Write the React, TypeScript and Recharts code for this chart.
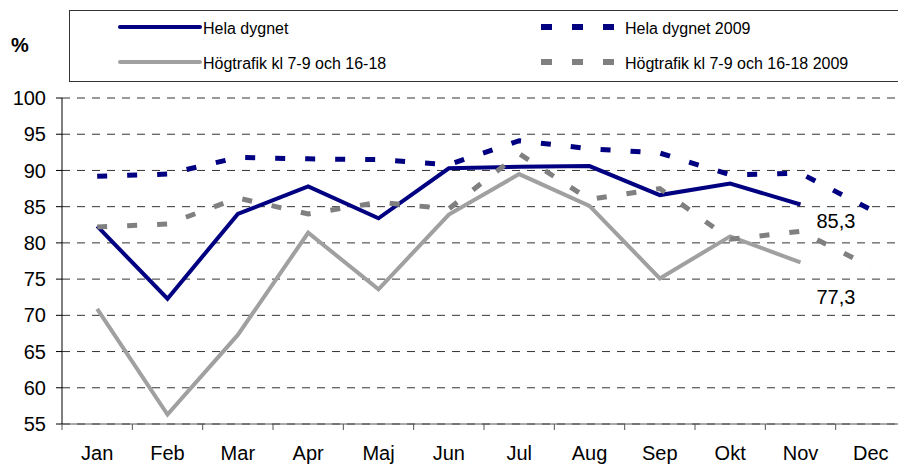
import { LineChart, Line, XAxis, YAxis, CartesianGrid, LabelList } from "recharts";

const months = ["Jan", "Feb", "Mar", "Apr", "Maj", "Jun", "Jul", "Aug", "Sep", "Okt", "Nov", "Dec"];
const helaDygnet = [82.3, 72.3, 84.0, 87.8, 83.4, 90.3, 90.5, 90.6, 86.6, 88.2, 85.3, null];
const hogtrafik = [70.9, 56.3, 67.3, 81.4, 73.6, 83.9, 89.5, 85.1, 75.1, 80.9, 77.3, null];
const helaDygnet2009 = [89.2, 89.5, 91.8, 91.6, 91.5, 90.8, 94.1, 93.0, 92.4, 89.4, 89.6, 84.6];
const hogtrafik2009 = [82.2, 82.6, 86.2, 84.0, 85.6, 84.7, 92.3, 86.0, 87.5, 80.5, 81.6, 76.7];
const yTicks = [55, 60, 65, 70, 75, 80, 85, 90, 95, 100];

const data = months.map((m, i) => ({
  month: m,
  hela: helaDygnet[i],
  hog: hogtrafik[i],
  hela09: helaDygnet2009[i],
  hog09: hogtrafik2009[i],
}));

const FONT = "'Liberation Sans', Arial, sans-serif";
const NAVY = "#000080";
const GRAY = "#a0a0a0";
const GRAY_DARK = "#808080";

const CHART_W = 906;
const CHART_H = 466;
const Y_W = 62;
const BAND = (CHART_W - Y_W) / months.length;

// month label plus a tick mark on the band boundary (Excel style)
const MonthTick = (props: any) => {
  const { x, y, payload } = props;
  return (
    <g>
      <line x1={x - BAND / 2} x2={x - BAND / 2} y1={y} y2={y + 6} stroke="#555" />
      <text x={x} y={y + 22} dy="0.71em" textAnchor="middle" fontSize={20} fontFamily={FONT} fill="#000">
        {payload.value}
      </text>
    </g>
  );
};

// value label at the last point of a series
const lastLabel = (dy: number) => (props: any) => {
  const { x, y, value, index } = props;
  if (index !== 10 || value == null) return null;
  return (
    <text x={x + 16} y={y + dy} fontSize={20} fontFamily={FONT} fill="#000">
      {String(value).replace(".", ",")}
    </text>
  );
};

const legendItems = [
  { name: "Hela dygnet", color: NAVY, dashed: false, col: 0, row: 0 },
  { name: "Hela dygnet 2009", color: NAVY, dashed: true, col: 1, row: 0 },
  { name: "Högtrafik kl 7-9 och 16-18", color: GRAY, dashed: false, col: 0, row: 1 },
  { name: "Högtrafik kl 7-9 och 16-18 2009", color: GRAY_DARK, dashed: true, col: 1, row: 1 },
];

const ChartLegend = () => (
  <svg width={898} height={90} style={{ position: "absolute", left: 0, top: 0 }}>
    <rect x={69.5} y={10.5} width={860} height={71} fill="#fff" stroke="#333" />
    <text x={11} y={52} fontSize={20} fontWeight="bold" fontFamily={FONT}>
      %
    </text>
    {legendItems.map((it) => {
      const ly = it.row === 0 ? 27 : 62;
      const lx = it.col === 0 ? 120 : 541;
      const tx = it.col === 0 ? 203 : 625;
      return (
        <g key={it.name}>
          {it.dashed ? (
            <line x1={lx} x2={lx + 74} y1={ly} y2={ly} stroke={it.color} strokeWidth={6} strokeDasharray="11 20" />
          ) : (
            <line x1={lx} x2={lx + 80} y1={ly} y2={ly} stroke={it.color} strokeWidth={4} strokeLinecap="round" />
          )}
          <text x={tx} y={ly + 7} fontSize={16} fontFamily={FONT} fill="#000">
            {it.name}
          </text>
        </g>
      );
    })}
  </svg>
);

export default function App() {
  return (
    <div
      style={{
        position: "absolute",
        left: 0,
        top: 0,
        width: 898,
        height: 466,
        overflow: "hidden",
        background: "#fff",
      }}
    >
      <ChartLegend />
      <div style={{ position: "absolute", left: 0, top: 0 }}>
        <LineChart width={CHART_W} height={CHART_H} data={data} margin={{ top: 98, right: 0, bottom: 12, left: 0 }}>
          <CartesianGrid vertical={false} stroke="#333" strokeDasharray="8 7" />
          <XAxis
            dataKey="month"
            scale="band"
            height={30}
            axisLine={{ stroke: "#555" }}
            tickLine={false}
            tickSize={0}
            tickMargin={0}
            interval={0}
            tick={<MonthTick />}
          />
          <YAxis
            width={Y_W}
            domain={[55, 100]}
            ticks={yTicks}
            interval={0}
            axisLine={{ stroke: "#000" }}
            tickLine={{ stroke: "#000" }}
            tickSize={6}
            tickMargin={10}
            tick={{ fontSize: 20, fontFamily: FONT, fill: "#000" }}
          />
          <Line
            dataKey="hela"
            stroke={NAVY}
            strokeWidth={4}
            dot={false}
            isAnimationActive={false}
          >
            <LabelList dataKey="hela" content={lastLabel(24)} />
          </Line>
          <Line
            dataKey="hog"
            stroke={GRAY}
            strokeWidth={4}
            dot={false}
            isAnimationActive={false}
          >
            <LabelList dataKey="hog" content={lastLabel(42)} />
          </Line>
          <Line
            dataKey="hela09"
            stroke={NAVY}
            strokeWidth={5}
            strokeDasharray="10 20"
            dot={false}
            isAnimationActive={false}
          />
          <Line
            dataKey="hog09"
            stroke={GRAY_DARK}
            strokeWidth={5}
            strokeDasharray="10 20"
            dot={false}
            isAnimationActive={false}
          />
        </LineChart>
      </div>
    </div>
  );
}
